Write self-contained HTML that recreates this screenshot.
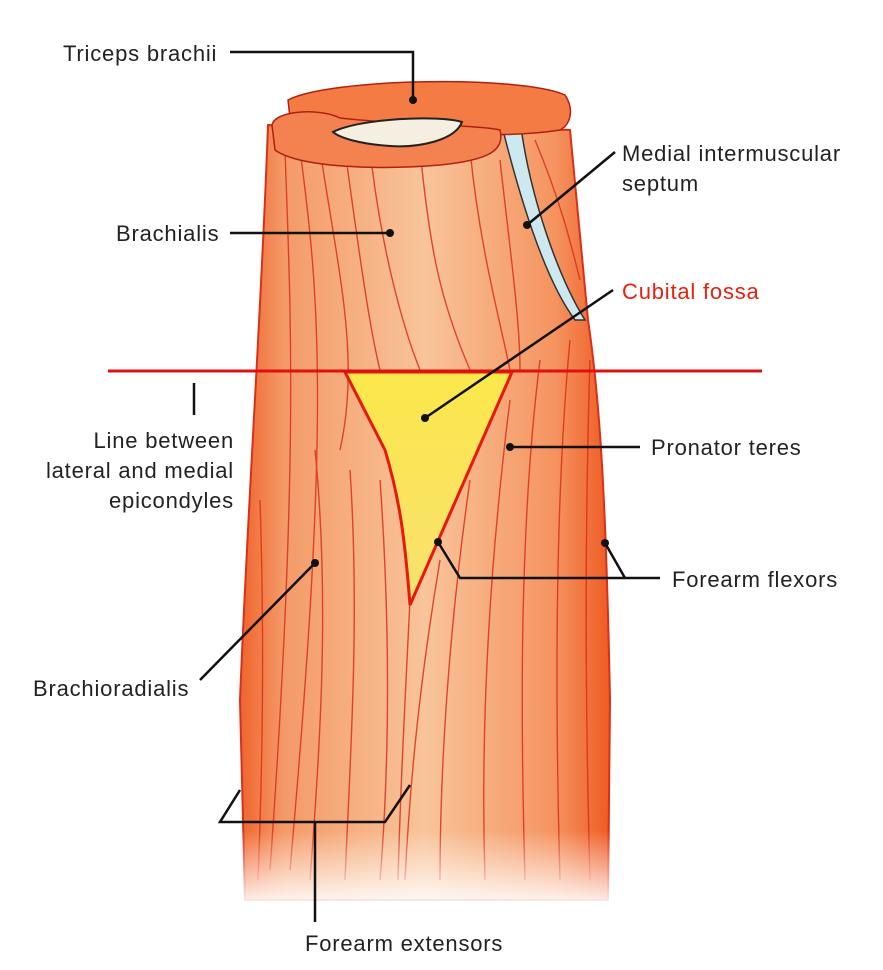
<!DOCTYPE html>
<html><head><meta charset="utf-8"><style>
html,body{margin:0;padding:0;background:#fff;}
svg{display:block;}
text{font-family:"Liberation Sans",sans-serif;font-size:22px;letter-spacing:0.8px;fill:#222;}
</style></head><body>
<svg width="883" height="970" viewBox="0 0 883 970" xmlns="http://www.w3.org/2000/svg">
<defs>
<linearGradient id="body" x1="0" x2="1" y1="0" y2="0">
<stop offset="0" stop-color="#f0642c"/>
<stop offset="0.12" stop-color="#f49a68"/>
<stop offset="0.5" stop-color="#f8c49a"/>
<stop offset="0.85" stop-color="#f59460"/>
<stop offset="1" stop-color="#ef5a22"/>
</linearGradient>
<linearGradient id="fade" x1="0" x2="0" y1="0" y2="1">
<stop offset="0" stop-color="#fff" stop-opacity="0"/>
<stop offset="1" stop-color="#fff" stop-opacity="1"/>
</linearGradient>
<linearGradient id="yel" x1="0" x2="0" y1="0" y2="1">
<stop offset="0" stop-color="#fbe84a"/>
<stop offset="1" stop-color="#f8e070"/>
</linearGradient>
</defs>
<path d="M268,125 C262,300 248,500 240,700 L245,900 L608,900 L610,700 C606,500 600,400 588,320 L570,130 Z" fill="url(#body)" stroke="#d8301a" stroke-width="2"/>
<path d="M500,118 L520,120 C530,200 560,280 585,320 L575,320 C545,280 520,200 500,118Z" fill="#cde8ee" stroke="#333" stroke-width="1.5"/>
<g stroke="#d9301c" stroke-width="1.4" fill="none" opacity="0.85">
<path d="M285,150 C290,300 300,450 270,870"/>
<path d="M300,150 C320,300 330,420 290,870"/>
<path d="M320,150 C340,280 360,360 340,450"/>
<path d="M345,150 C360,260 370,330 380,370"/>
<path d="M370,150 C380,240 400,320 420,370"/>
<path d="M420,150 C430,250 440,300 470,370"/>
<path d="M470,150 C480,250 500,320 510,370"/>
<path d="M500,160 C510,250 520,320 520,370"/>
<path d="M535,140 C560,200 570,240 580,280"/>
<path d="M315,450 C330,600 320,750 310,880"/>
<path d="M350,470 C360,620 350,760 345,880"/>
<path d="M380,480 C390,620 390,760 380,880"/>
<path d="M440,560 C420,680 410,780 405,880"/>
<path d="M470,480 C450,620 440,760 440,880"/>
<path d="M510,400 C490,560 480,720 485,880"/>
<path d="M540,360 C520,520 520,700 525,880"/>
<path d="M570,340 C555,500 555,700 560,880"/>
<path d="M590,360 C585,520 585,700 590,880"/>
<path d="M260,500 C265,650 262,780 258,880"/>
<path d="M410,600 C405,700 400,800 398,880"/>
</g>
<path d="M288,100 C330,78 520,75 565,95 C575,110 570,125 560,130 C500,140 340,135 290,118 Z" fill="#f47c44" stroke="#b02010" stroke-width="1.5"/>
<path d="M272,125 C275,110 320,108 340,118 C400,125 480,125 500,130 C505,150 490,160 440,165 C380,170 300,168 275,150 Z" fill="#f48250" stroke="#b02010" stroke-width="1.5"/>
<path d="M333,132 C360,118 440,115 462,122 C455,140 420,148 390,146 C360,144 340,138 333,132Z" fill="#f4efe0" stroke="#222" stroke-width="2"/>
<rect x="230" y="830" width="390" height="80" fill="url(#fade)"/>
<path d="M345,372 L512,372 L410,605 C405,540 400,500 385,450 Z" fill="url(#yel)" stroke="#e8180c" stroke-width="3"/>
<line x1="108" y1="371" x2="762" y2="371" stroke="#e01010" stroke-width="3"/>
<g stroke="#111" stroke-width="2.5" fill="none">
<polyline points="230,52 413,52 413,100"/>
<line x1="615" y1="152" x2="527" y2="225"/>
<line x1="230" y1="233" x2="390" y2="233"/>
<line x1="613" y1="290" x2="425" y2="418"/>
<line x1="194" y1="383" x2="194" y2="415"/>
<line x1="640" y1="447" x2="510" y2="447"/>
<polyline points="438,542 460,578 660,578"/>
<polyline points="605,543 625,578"/>
<line x1="200" y1="680" x2="315" y2="563"/>
<polyline points="240,790 220,822 385,822 410,785"/>
<line x1="315" y1="822" x2="315" y2="922"/>
</g>
<g fill="#111">
<circle cx="413" cy="100" r="4"/><circle cx="527" cy="225" r="4"/><circle cx="390" cy="233" r="4"/>
<circle cx="425" cy="418" r="4"/><circle cx="510" cy="447" r="4"/><circle cx="438" cy="542" r="4"/>
<circle cx="605" cy="543" r="4"/><circle cx="315" cy="563" r="4"/>
</g>
<text x="63" y="61">Triceps brachii</text>
<text x="622" y="161">Medial intermuscular</text>
<text x="622" y="191">septum</text>
<text x="116" y="241">Brachialis</text>
<text x="622" y="299" style="fill:#e82010">Cubital fossa</text>
<text x="234" y="448" text-anchor="end">Line between</text>
<text x="234" y="478" text-anchor="end">lateral and medial</text>
<text x="234" y="508" text-anchor="end">epicondyles</text>
<text x="651" y="455">Pronator teres</text>
<text x="672" y="587">Forearm flexors</text>
<text x="33" y="696">Brachioradialis</text>
<text x="305" y="951">Forearm extensors</text>
</svg>
</body></html>
